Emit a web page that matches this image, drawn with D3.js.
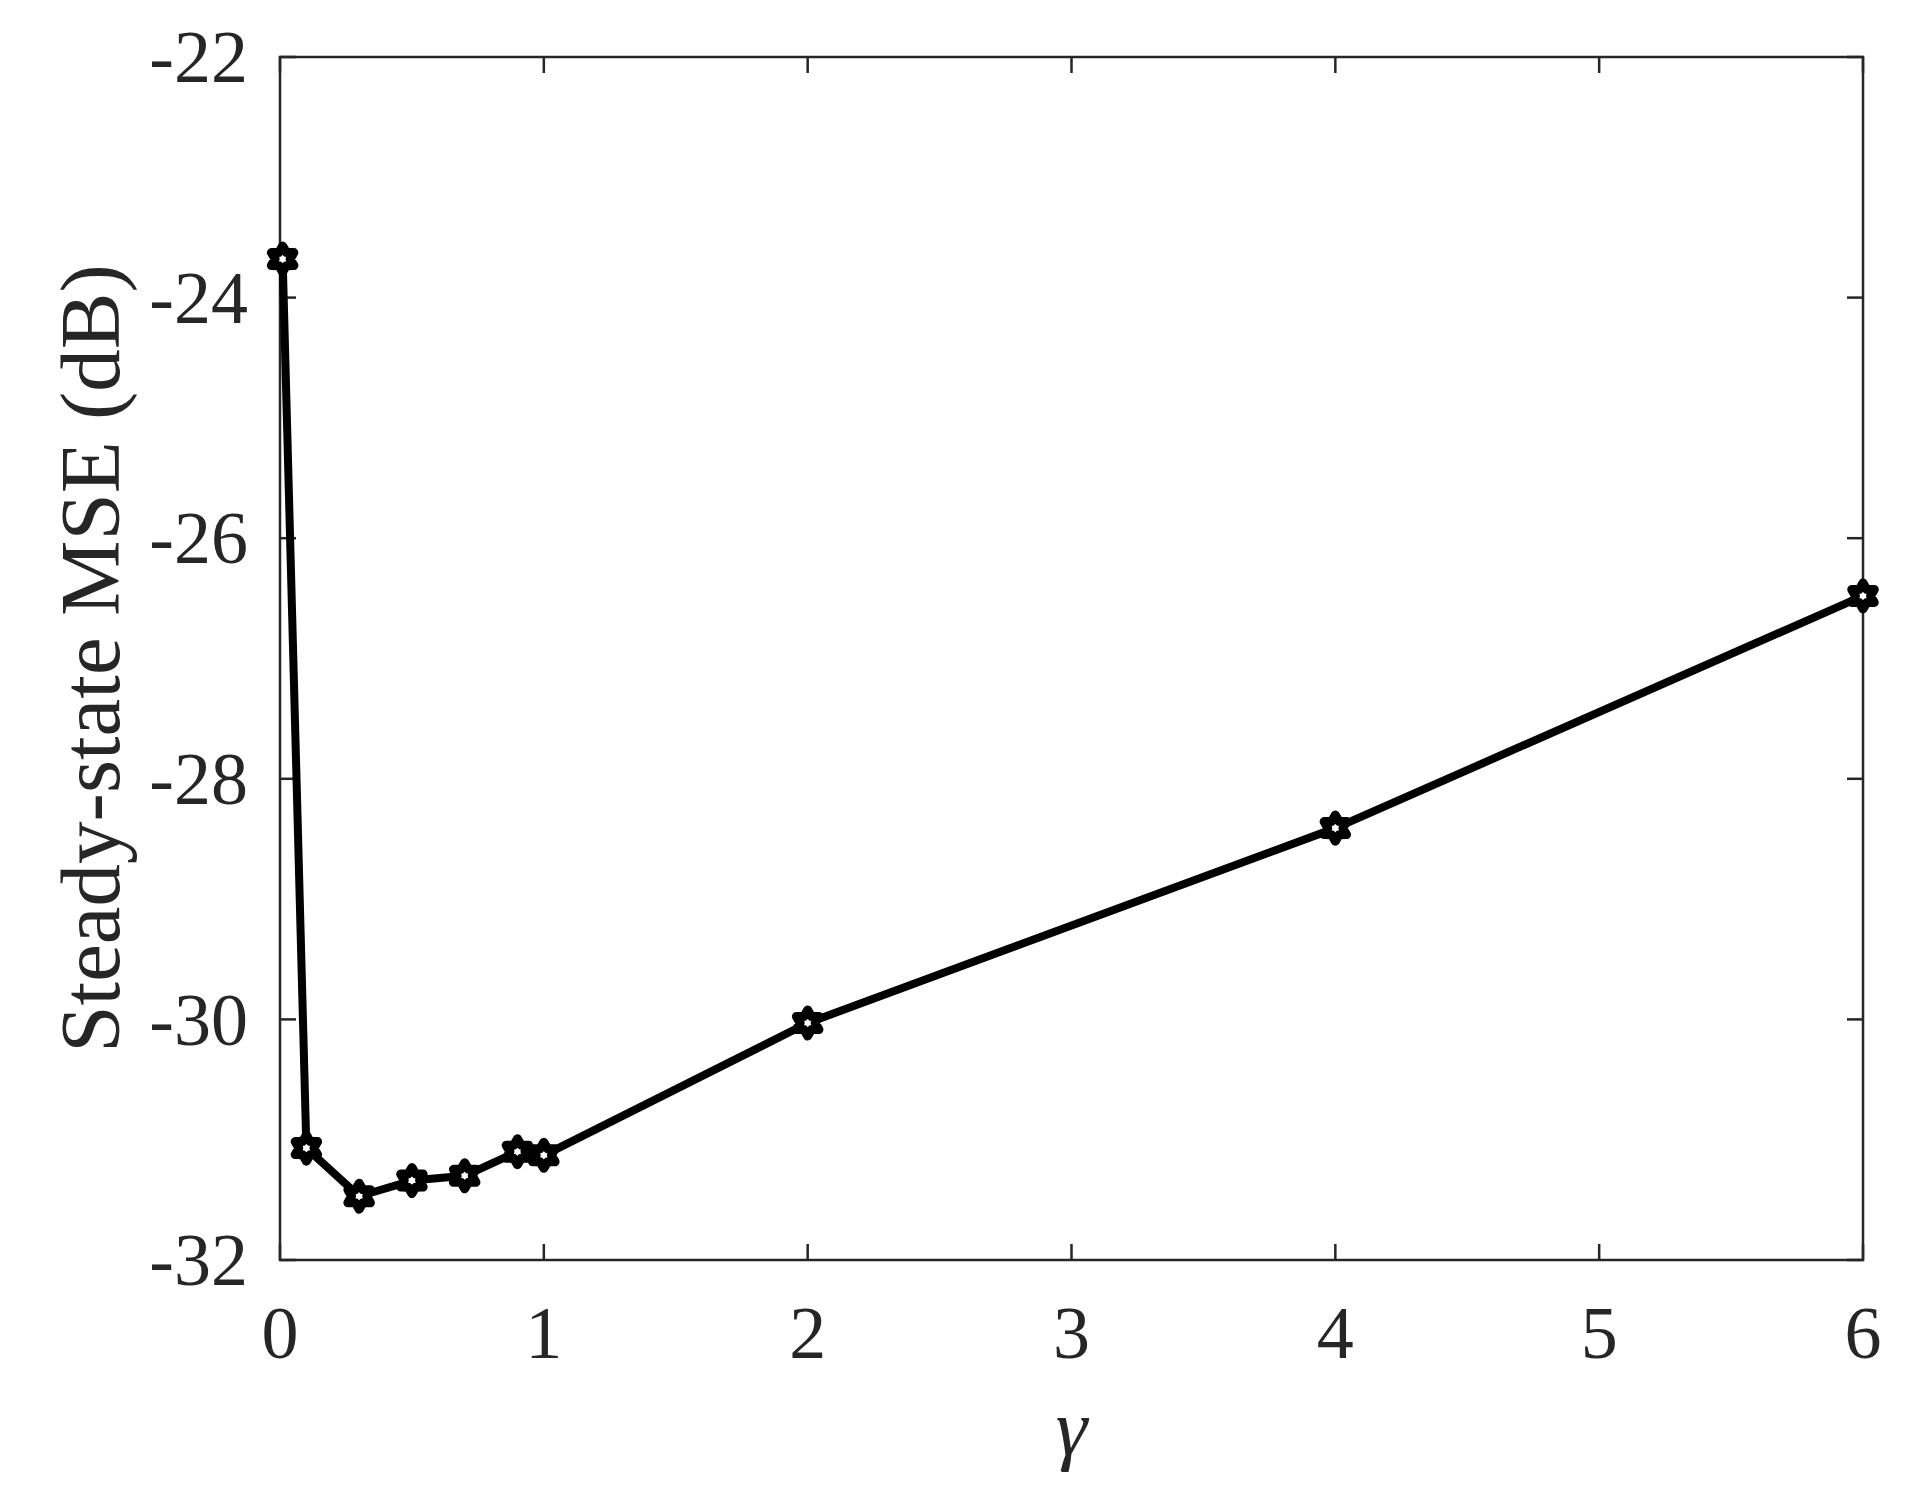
<!DOCTYPE html>
<html>
<head>
<meta charset="utf-8">
<script src="https://cdn.jsdelivr.net/npm/d3@7"></script>
<style>
  body { margin: 0; background: #fff; }
  svg text { font-family: "Liberation Serif", "Times New Roman", serif; fill: #262626; }
</style>
</head>
<body>
<svg id="chart" width="1928" height="1508"></svg>
<script>
// values
const gammaVals = [0.01, 0.1, 0.3, 0.5, 0.7, 0.9, 1, 2, 4, 6];
const mseVals = [-23.68, -31.07, -31.47, -31.34, -31.30, -31.10, -31.13, -30.03, -28.41, -26.48];
const xTicks = [0, 1, 2, 3, 4, 5, 6];
const yTicks = [-32, -30, -28, -26, -24, -22];

const plotL = 280, plotR = 1863, plotT = 57, plotB = 1260;
const tickLen = 16;

const svg = d3.select("#chart");

const x = d3.scaleLinear().domain([0, 6]).range([plotL, plotR]);
const y = d3.scaleLinear().domain([-32, -22]).range([plotB, plotT]);

// box
svg.append("rect")
  .attr("x", plotL).attr("y", plotT)
  .attr("width", plotR - plotL).attr("height", plotB - plotT)
  .attr("fill", "none").attr("stroke", "#262626").attr("stroke-width", 2.5);

// ticks (inward, mirrored like matlab box on)
const tk = svg.append("g").attr("stroke", "#262626").attr("stroke-width", 2.5);
xTicks.forEach(t => {
  tk.append("line").attr("x1", x(t)).attr("x2", x(t)).attr("y1", plotB).attr("y2", plotB - tickLen);
  tk.append("line").attr("x1", x(t)).attr("x2", x(t)).attr("y1", plotT).attr("y2", plotT + tickLen);
});
yTicks.forEach(t => {
  tk.append("line").attr("x1", plotL).attr("x2", plotL + tickLen).attr("y1", y(t)).attr("y2", y(t));
  tk.append("line").attr("x1", plotR).attr("x2", plotR - tickLen).attr("y1", y(t)).attr("y2", y(t));
});

// tick labels
svg.append("g").selectAll("text").data(xTicks).enter().append("text")
  .attr("x", d => x(d)).attr("y", 1358)
  .attr("text-anchor", "middle")
  .style("font-size", "74px")
  .text(d => d);

svg.append("g").selectAll("text").data(yTicks).enter().append("text")
  .attr("x", 248).attr("y", d => y(d))
  .attr("dy", "0.34em")
  .attr("text-anchor", "end")
  .style("font-size", "74px")
  .text(d => d);

// axis labels
svg.append("text")
  .attr("x", (plotL + plotR) / 2).attr("y", 1455)
  .attr("text-anchor", "middle")
  .style("font-size", "80px").style("font-style", "italic")
  .text("γ");

svg.append("text")
  .attr("transform", "translate(119," + ((plotT + plotB) / 2) + ") rotate(-90)")
  .attr("text-anchor", "middle")
  .style("font-size", "85px")
  .text("Steady-state MSE (dB)");

// line
const pts = gammaVals.map((g, i) => [g, mseVals[i]]);
svg.append("path")
  .datum(pts)
  .attr("fill", "none")
  .attr("stroke", "#000")
  .attr("stroke-width", 8)
  .attr("stroke-linejoin", "round")
  .attr("d", d3.line().x(d => x(d[0])).y(d => y(d[1])));

// hexagram markers
function hexagram(r) {
  const p = [];
  for (let i = 0; i < 12; i++) {
    const a = -Math.PI / 2 + i * Math.PI / 6;
    const rr = i % 2 === 0 ? r : r * 0.58;
    p.push([rr * Math.cos(a), rr * Math.sin(a)]);
  }
  return "M" + p.map(q => q.join(",")).join("L") + "Z";
}
svg.append("g").selectAll("path").data(pts).enter().append("path")
  .attr("transform", d => "translate(" + x(d[0]) + "," + y(d[1]) + ")")
  .attr("d", hexagram(13))
  .attr("fill", "#fff")
  .attr("stroke", "#000")
  .attr("stroke-width", 9)
  .attr("stroke-linejoin", "round");
</script>
</body>
</html>
